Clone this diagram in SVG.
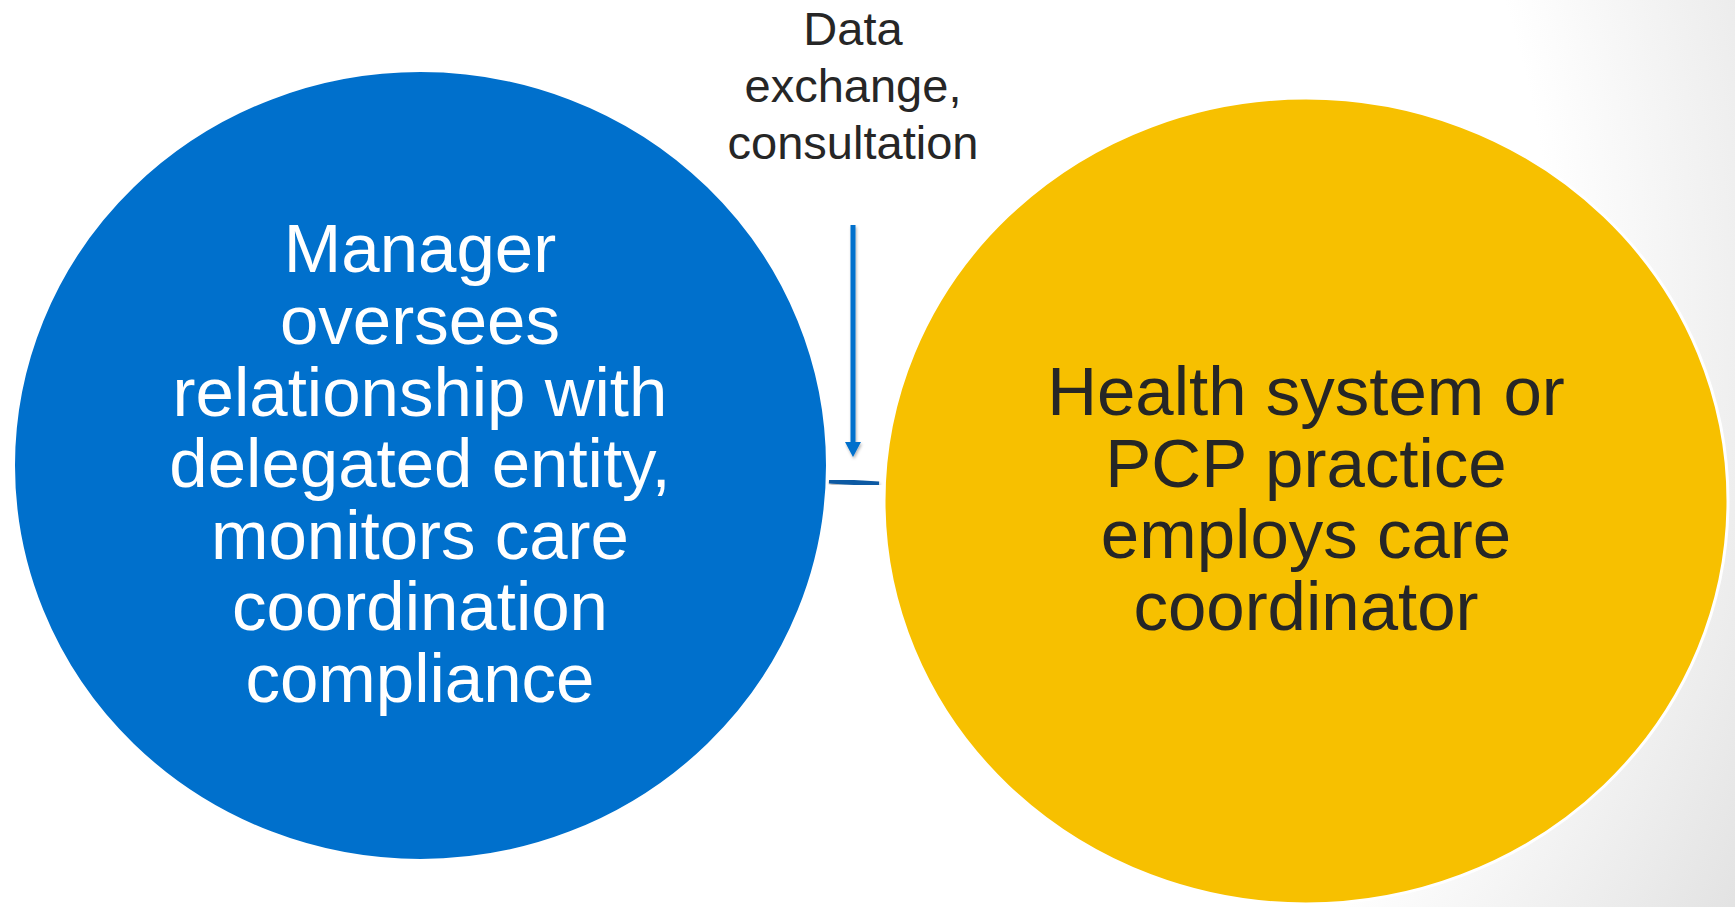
<svg xmlns="http://www.w3.org/2000/svg" width="1735" height="907" viewBox="0 0 1735 907">
  <style>
    .node-text { font-family: "Liberation Sans", Arial, sans-serif; font-size: 69px; text-anchor: middle; }
    .white { fill: #ffffff; }
    .dark { fill: #262626; }
    .label { font-family: "Liberation Sans", Arial, sans-serif; font-size: 47px; text-anchor: middle; fill: #262626; }
    .circle { stroke: #ffffff; stroke-width: 3; }
  </style>
  <defs>
    <radialGradient id="bg" gradientUnits="userSpaceOnUse" cx="600" cy="300" r="1400">
      <stop offset="0.68" stop-color="#ffffff"/>
      <stop offset="1" stop-color="#d9d9d9"/>
    </radialGradient>
    <filter id="shadow" x="-50%" y="-10%" width="200%" height="120%">
      <feDropShadow dx="1" dy="2" stdDeviation="1.5" flood-color="#000000" flood-opacity="0.3"/>
    </filter>
  </defs>
  <rect x="0" y="0" width="1735" height="907" fill="url(#bg)"/>

  <g id="node-manager">
    <ellipse class="circle" cx="420.5" cy="465.5" rx="407" ry="395" fill="#0070cc"/>
    <text class="node-text white" x="420"><tspan x="420" y="272">Manager</tspan><tspan x="420" y="344">oversees</tspan><tspan x="420" y="416">relationship with</tspan><tspan x="420" y="487">delegated entity,</tspan><tspan x="420" y="559">monitors care</tspan><tspan x="420" y="630">coordination</tspan><tspan x="420" y="702">compliance</tspan></text>
  </g>

  <g id="node-health-system">
    <ellipse class="circle" cx="1306" cy="501" rx="422" ry="403" fill="#f7c000"/>
    <text class="node-text dark" x="1306"><tspan x="1306" y="415">Health system or</tspan><tspan x="1306" y="487">PCP practice</tspan><tspan x="1306" y="558">employs care</tspan><tspan x="1306" y="630">coordinator</tspan></text>
  </g>

  <g id="connectors">
    <g filter="url(#shadow)">
      <line x1="853" y1="225" x2="853" y2="443" stroke="#0070cc" stroke-width="5"/>
      <path d="M845,442 L861,442 L853,457 Z" fill="#0070cc"/>
    </g>
    <line x1="829" y1="481" x2="879" y2="484" stroke="#0d5aa3" stroke-width="5" filter="url(#shadow)"/>
    <text class="label" x="853"><tspan x="853" y="45">Data</tspan><tspan x="853" y="102">exchange,</tspan><tspan x="853" y="159">consultation</tspan></text>
  </g>
</svg>
